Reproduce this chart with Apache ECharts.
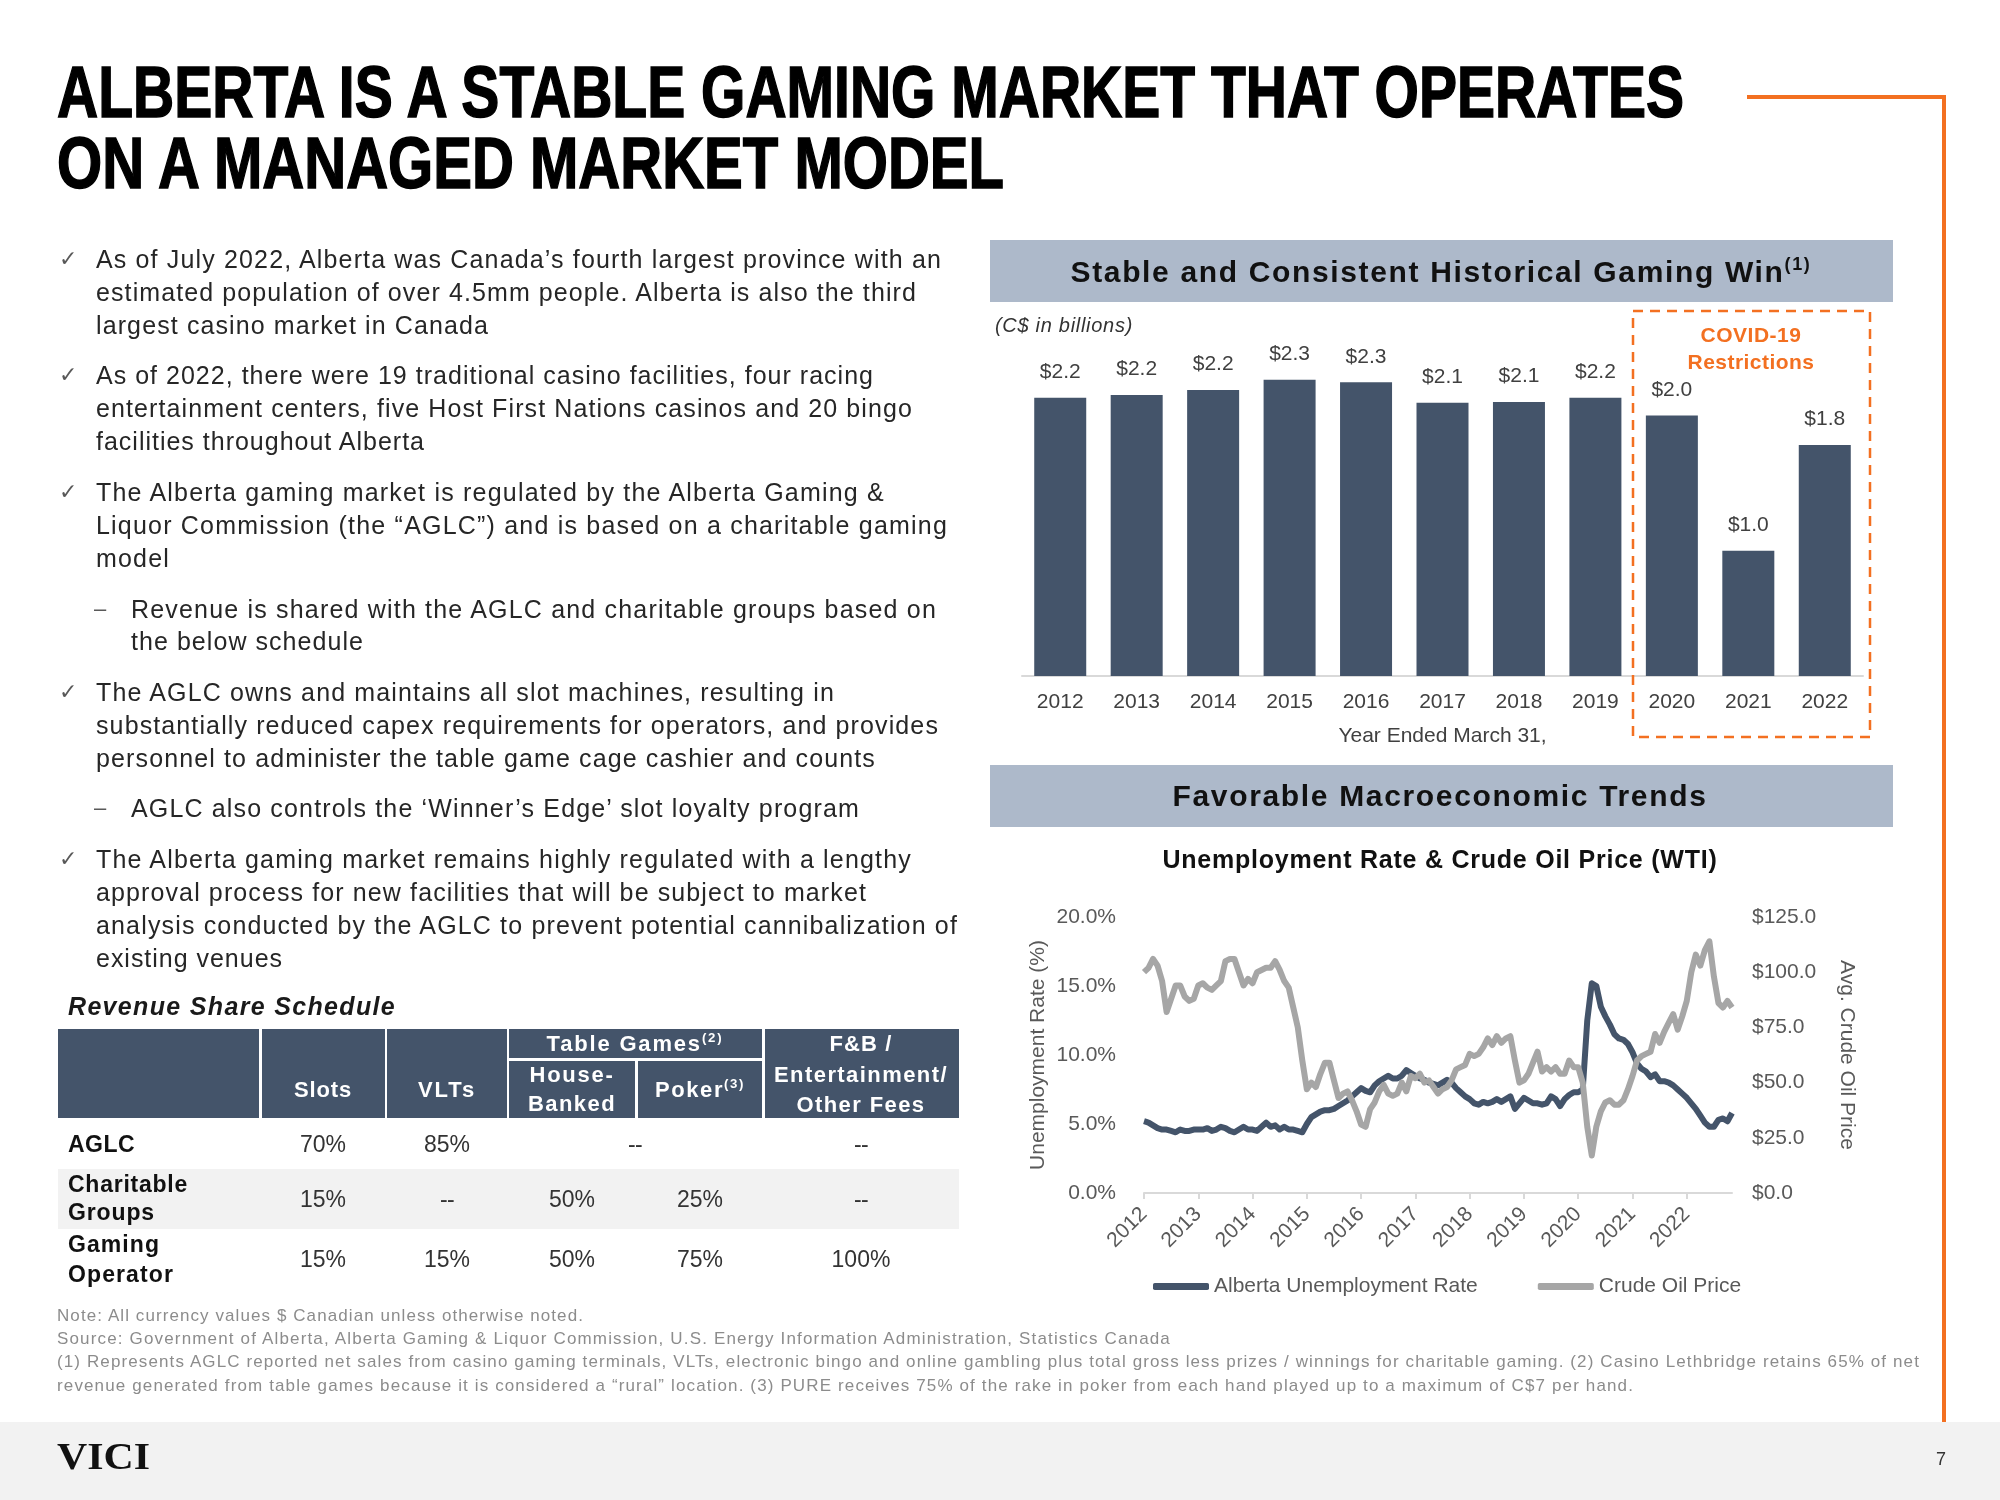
<!DOCTYPE html>
<html>
<head>
<meta charset="utf-8">
<script src="https://cdn.jsdelivr.net/npm/echarts@6.0.0/dist/echarts.min.js"></script>
<style>
  html, body { margin:0; padding:0; width:2000px; height:1500px; background:#fff; overflow:hidden; }
  body { position:relative; font-family:"Liberation Sans", Arial, sans-serif; }
  .t { position:absolute; white-space:nowrap; z-index:3; color:#262626; }
  .r { position:absolute; z-index:0; }
  #chart { position:absolute; left:0; top:0; width:2000px; height:1500px; z-index:2; }
  sup { font-size:0.6em; vertical-align:0.65em; line-height:0; }
</style>
</head>
<body>
<div id="chart"></div>
<script>
// ---------------- DATA ----------------
const fiscalYears = ['2012','2013','2014','2015','2016','2017','2018','2019','2020','2021','2022'];
const gamingWin = [2.18, 2.20, 2.24, 2.32, 2.30, 2.14, 2.145, 2.18, 2.04, 0.98, 1.81];

const lineYears = ['2012','2013','2014','2015','2016','2017','2018','2019','2020','2021','2022'];
// Alberta unemployment rate (%), monthly Jan 2012 - Nov 2022
const unemployment = [
  5.2, 5.1, 4.9, 4.7, 4.6, 4.6, 4.5, 4.4, 4.6, 4.5, 4.5, 4.6,
  4.6, 4.6, 4.7, 4.5, 4.6, 4.8, 4.7, 4.5, 4.4, 4.6, 4.8, 4.6,
  4.6, 4.5, 4.8, 5.1, 4.8, 4.9, 4.6, 4.8, 4.6, 4.6, 4.5, 4.4,
  5.0, 5.5, 5.7, 5.9, 6.0, 6.0, 6.1, 6.3, 6.5, 6.7, 7.0, 7.3,
  7.6, 7.4, 7.3, 7.8, 8.1, 8.3, 8.5, 8.3, 8.3, 8.5, 8.9, 8.7,
  8.5, 8.3, 8.2, 8.0, 7.9, 7.8, 8.0, 8.2, 8.0, 7.6, 7.3, 7.0,
  6.8, 6.5, 6.4, 6.6, 6.5, 6.6, 6.8, 6.6, 6.8, 7.0, 6.1, 6.5,
  6.9, 6.7, 6.5, 6.5, 6.4, 6.5, 7.0, 6.8, 6.3, 6.8, 7.1, 7.3,
  7.3, 7.5, 12.5, 15.2, 15.0, 13.5, 12.8, 12.2, 11.5, 11.2, 11.1, 10.8,
  10.2, 9.4, 9.0, 8.8, 8.4, 8.6, 8.1, 8.1, 8.0, 7.8, 7.5, 7.2,
  6.9, 6.5, 6.1, 5.6, 5.1, 4.8, 4.8, 5.3, 5.4, 5.2, 5.8
];
// Crude oil price (WTI, US$/bbl), monthly Jan 2012 - Nov 2022
const oilPrice = [
  100, 102, 106, 103, 96, 82, 88, 94, 94, 89, 87, 88,
  94, 95, 93, 92, 94, 96, 105, 106, 106, 100, 94, 97,
  95, 100, 101, 102, 102, 105, 101, 96, 93, 84, 75, 60,
  47, 50, 48, 54, 59, 59, 51, 43, 45, 46, 42, 37,
  31, 30, 38, 41, 46, 49, 45, 44, 45, 50, 46, 53,
  52, 54, 50, 51, 48, 45, 47, 48, 51, 56, 57, 58,
  63, 62, 63, 66, 70, 67, 71, 68, 70, 71, 60, 50,
  51, 54, 59, 64, 55, 57, 55, 57, 54, 54, 60, 57,
  57, 50, 30, 17, 30, 37, 41, 42, 40, 40, 42, 47,
  53, 60, 62, 63, 64, 72, 68, 73, 77, 81, 74, 80,
  87, 100, 108, 103, 110, 114, 98, 86, 84, 87, 84
];
const unempTicks = [0, 5, 10, 15, 20];
const oilTicks = [0, 25, 50, 75, 100, 125];

const monthCats = [];
lineYears.forEach(y => { for (let m = 1; m <= 12; m++) monthCats.push(y + '-' + (m < 10 ? '0' + m : m)); });
monthCats.length = unemployment.length;

// ---------------- STATIC SLIDE ELEMENTS ----------------
function rect(x, y, w, h, c) {
  const d = document.createElement('div');
  d.className = 'r';
  d.style.cssText += `left:${x}px;top:${y}px;width:${w}px;height:${h}px;background:${c};`;
  document.body.appendChild(d);
}
function place(html, x, cy, size, o) {
  o = o || {};
  const d = document.createElement('div');
  d.className = 't';
  d.innerHTML = html;
  const lh = size * 1.2;
  d.style.fontSize = size + 'px';
  d.style.lineHeight = lh + 'px';
  d.style.top = (cy - lh / 2) + 'px';
  d.style.left = '0px';
  if (o.f) d.style.fontFamily = o.f;
  if (o.b) d.style.fontWeight = 'bold';
  if (o.i) d.style.fontStyle = 'italic';
  if (o.c) d.style.color = o.c;
  if (o.st) d.style.webkitTextStroke = o.st;
  document.body.appendChild(d);
  let w = d.getBoundingClientRect().width;
  if (o.w) {
    const n = d.textContent.length;
    const ls = (o.w - w) / n;
    if (ls > -0.8 && !o.scale) {
      d.style.letterSpacing = ls + 'px';
    } else {
      d.style.transformOrigin = '0 0';
      d.style.transform = `scaleX(${o.w / w})`;
    }
    w = o.w;
  }
  let left = x;
  if (o.a === 'c') left = x - w / 2;
  else if (o.a === 'r') left = x - w;
  d.style.left = left + 'px';
}

const ORANGE = '#F37021';
const SLATE = '#44546A';
const BAND = '#ADB9CA';

// orange bracket & footer
rect(1747, 95, 199, 4, ORANGE);
rect(1942, 95, 4, 1327, ORANGE);
rect(0, 1422, 2000, 78, '#F2F2F2');

// Title
place('ALBERTA IS A STABLE GAMING MARKET THAT OPERATES', 57, 92, 72, { b: 1, c: '#000', w: 1627, scale: 1, st: '1.5px #000' });
place('ON A MANAGED MARKET MODEL', 57, 163, 72, { b: 1, c: '#000', w: 947, scale: 1, st: '1.5px #000' });

// Bullets
const BODY = 25;
const lines = [
  ['As of July 2022, Alberta was Canada’s fourth largest province with an', 96, 259, 942],
  ['estimated population of over 4.5mm people. Alberta is also the third', 96, 292, 917],
  ['largest casino market in Canada', 96, 325, 489],
  ['As of 2022, there were 19 traditional casino facilities, four racing', 96, 375, 874],
  ['entertainment centers, five Host First Nations casinos and 20 bingo', 96, 408, 913],
  ['facilities throughout Alberta', 96, 441, 425],
  ['The Alberta gaming market is regulated by the Alberta Gaming &amp;', 96, 492, 885],
  ['Liquor Commission (the “AGLC”) and is based on a charitable gaming', 96, 525, 948],
  ['model', 96, 558, 170],
  ['Revenue is shared with the AGLC and charitable groups based on', 131, 609, 937],
  ['the below schedule', 131, 641, 364],
  ['The AGLC owns and maintains all slot machines, resulting in', 96, 692, 835],
  ['substantially reduced capex requirements for operators, and provides', 96, 725, 939],
  ['personnel to administer the table game cage cashier and counts', 96, 758, 876],
  ['AGLC also controls the ‘Winner’s Edge’ slot loyalty program', 131, 808, 860],
  ['The Alberta gaming market remains highly regulated with a lengthy', 96, 859, 912],
  ['approval process for new facilities that will be subject to market', 96, 892, 867],
  ['analysis conducted by the AGLC to prevent potential cannibalization of', 96, 925, 958],
  ['existing venues', 96, 958, 283]
];
lines.forEach(l => place(l[0], l[1], l[2], BODY, { w: l[3] - l[1], c: '#262626' }));
[259, 375, 492, 692, 859].forEach(y => place('✓', 59, y, 22, { c: '#595959', f: '"DejaVu Sans", sans-serif' }));
[609, 808].forEach(y => place('–', 94, y, 22, { c: '#595959' }));

// Revenue share schedule table
place('Revenue Share Schedule', 68, 1006, 25, { b: 1, i: 1, w: 328, c: '#1a1a1a' });
rect(58, 1029, 201, 89, SLATE);
rect(262, 1029, 123, 89, SLATE);
rect(387, 1029, 120, 89, SLATE);
rect(509, 1029, 253, 29, SLATE);
rect(509, 1061, 126, 57, SLATE);
rect(638, 1061, 124, 57, SLATE);
rect(765, 1029, 194, 89, SLATE);
rect(58, 1169, 901, 60, '#F2F2F2');
const HW = { b: 1, c: '#fff', a: 'c' };
place('Slots', 323, 1090, 22, Object.assign({ w: 58 }, HW));
place('VLTs', 447, 1090, 22, Object.assign({ w: 58 }, HW));
place('Table Games<sup>(2)</sup>', 635, 1044, 22, Object.assign({ w: 177 }, HW));
place('House-', 572, 1075, 22, Object.assign({ w: 85 }, HW));
place('Banked', 572, 1104, 22, Object.assign({ w: 88 }, HW));
place('Poker<sup>(3)</sup>', 700, 1090, 22, Object.assign({ w: 90 }, HW));
place('F&amp;B /', 861, 1044, 22, Object.assign({ w: 63 }, HW));
place('Entertainment/', 861, 1075, 22, Object.assign({ w: 174 }, HW));
place('Other Fees', 861, 1105, 22, Object.assign({ w: 129 }, HW));

const rowLab = { b: 1, c: '#111' };
place('AGLC', 68, 1145, 23, Object.assign({ w: 67 }, rowLab));
place('Charitable', 68, 1185, 23, Object.assign({ w: 120 }, rowLab));
place('Groups', 68, 1213, 23, Object.assign({ w: 87 }, rowLab));
place('Gaming', 68, 1245, 23, Object.assign({ w: 92 }, rowLab));
place('Operator', 68, 1275, 23, Object.assign({ w: 106 }, rowLab));
const colX = [323, 447, 572, 700, 861];
const tableRows = [
  [1145, ['70%', '85%', null, null, '--']],
  [1200, ['15%', '--', '50%', '25%', '--']],
  [1260, ['15%', '15%', '50%', '75%', '100%']]
];
tableRows.forEach(r => r[1].forEach((v, i) => { if (v) place(v, colX[i], r[0], 23, { a: 'c', c: '#333', w: v === '--' ? 14 : undefined }); }));
place('--', 635, 1145, 23, { a: 'c', c: '#333', w: 14 });

// Notes
const NC = '#8C8C8C';
place('Note: All currency values $ Canadian unless otherwise noted.', 57, 1316, 17, { c: NC, w: 527 });
place('Source: Government of Alberta, Alberta Gaming &amp; Liquor Commission, U.S. Energy Information Administration, Statistics Canada', 57, 1339, 17, { c: NC, w: 1114 });
place('(1) Represents AGLC reported net sales from casino gaming terminals, VLTs, electronic bingo and online gambling plus total gross less prizes / winnings for charitable gaming. (2) Casino Lethbridge retains 65% of net', 57, 1362, 17, { c: NC, w: 1863 });
place('revenue generated from table games because it is considered a “rural” location. (3) PURE receives 75% of the rake in poker from each hand played up to a maximum of C$7 per hand.', 57, 1386, 17, { c: NC, w: 1577 });

// Footer
place('VICI', 57, 1457, 38, { b: 1, c: '#111', f: '"Liberation Serif", serif', w: 93, scale: 1 });
place('7', 1946, 1460, 18, { a: 'r', c: '#333' });

// Right side bands and titles
rect(990, 240, 903, 62, BAND);
rect(990, 765, 903, 62, BAND);
place('Stable and Consistent Historical Gaming Win<sup>(1)</sup>', 1441, 272, 30, { b: 1, a: 'c', w: 741, c: '#111' });
place('Favorable Macroeconomic Trends', 1440, 796, 30, { b: 1, a: 'c', w: 535, c: '#111' });
place('Unemployment Rate &amp; Crude Oil Price (WTI)', 1440, 859, 25, { b: 1, a: 'c', w: 555, c: '#111' });
place('(C$ in billions)', 995, 325, 20, { i: 1, w: 138, c: '#333' });
place('COVID-19', 1751, 335, 21, { b: 1, a: 'c', c: ORANGE, w: 101 });
place('Restrictions', 1751, 362, 21, { b: 1, a: 'c', c: ORANGE, w: 127 });

// ---------------- CHARTS ----------------
const chart = echarts.init(document.getElementById('chart'), null, { renderer: 'canvas', width: 2000, height: 1500 });
const FONT = '"Liberation Sans", Arial, sans-serif';
const AX = '#D9D9D9';
const LBL = '#595959';
const isYearStart = (i) => i % 12 === 0;

chart.setOption({
  animation: false,
  backgroundColor: 'transparent',
  textStyle: { fontFamily: FONT },
  grid: [
    { left: 1022, top: 344, width: 841, height: 332 },
    { left: 1144, top: 917, width: 588, height: 276 }
  ],
  xAxis: [
    {
      gridIndex: 0, type: 'category', data: fiscalYears,
      axisLine: { lineStyle: { color: AX, width: 2 } },
      axisTick: { show: false },
      axisLabel: { fontSize: 21, color: '#404040', margin: 16 },
      name: 'Year Ended March 31,', nameLocation: 'middle', nameGap: 50,
      nameTextStyle: { fontSize: 21, color: '#404040' }
    },
    {
      gridIndex: 1, type: 'category', data: monthCats, boundaryGap: false,
      axisLine: { lineStyle: { color: AX, width: 2 } },
      axisTick: { interval: isYearStart, length: 6, lineStyle: { color: AX, width: 2 } },
      axisLabel: { interval: isYearStart, rotate: 45, fontSize: 21, color: LBL, margin: 18,
        formatter: v => v.slice(0, 4) }
    }
  ],
  yAxis: [
    { gridIndex: 0, type: 'value', min: 0, max: 2.6, show: false },
    {
      gridIndex: 1, type: 'value', position: 'left', min: unempTicks[0], max: unempTicks[unempTicks.length - 1], interval: 5,
      axisLine: { show: false }, axisTick: { show: false }, splitLine: { show: false },
      axisLabel: { formatter: v => v.toFixed(1) + '%', fontSize: 21, color: LBL, margin: 28 },
      name: 'Unemployment Rate (%)', nameLocation: 'middle', nameRotate: 90, nameGap: 95,
      nameTextStyle: { fontSize: 21, color: LBL }
    },
    {
      gridIndex: 1, type: 'value', position: 'right', min: oilTicks[0], max: oilTicks[oilTicks.length - 1], interval: 25,
      axisLine: { show: false }, axisTick: { show: false }, splitLine: { show: false },
      axisLabel: { formatter: v => '$' + v.toFixed(1), fontSize: 21, color: LBL, margin: 20 },
      name: 'Avg. Crude Oil Price', nameLocation: 'middle', nameRotate: -90, nameGap: 104,
      nameTextStyle: { fontSize: 21, color: LBL }
    }
  ],
  legend: {
    left: 1148, top: 1271, itemWidth: 56, itemHeight: 7, itemGap: 60, icon: 'roundRect',
    textStyle: { fontSize: 21, color: LBL },
    data: ['Alberta Unemployment Rate', 'Crude Oil Price']
  },
  graphic: [
    { type: 'rect', z: 10, shape: { x: 1633, y: 311, width: 237, height: 426 },
      style: { fill: 'none', stroke: ORANGE, lineWidth: 2.5, lineDash: [10, 7] } }
  ],
  series: [
    {
      type: 'bar', xAxisIndex: 0, yAxisIndex: 0, data: gamingWin, barWidth: 52,
      itemStyle: { color: SLATE },
      label: { show: true, position: 'top', distance: 15, fontSize: 21, color: '#404040',
        formatter: p => '$' + p.value.toFixed(1) }
    },
    {
      name: 'Alberta Unemployment Rate', type: 'line', xAxisIndex: 1, yAxisIndex: 1,
      data: unemployment, symbol: 'none', z: 3,
      lineStyle: { width: 6, color: SLATE, join: 'round' }, itemStyle: { color: SLATE }
    },
    {
      name: 'Crude Oil Price', type: 'line', xAxisIndex: 1, yAxisIndex: 2,
      data: oilPrice, symbol: 'none', z: 4,
      lineStyle: { width: 6, color: '#A6A6A6', join: 'round' }, itemStyle: { color: '#A6A6A6' }
    }
  ]
});
</script>
</body>
</html>
